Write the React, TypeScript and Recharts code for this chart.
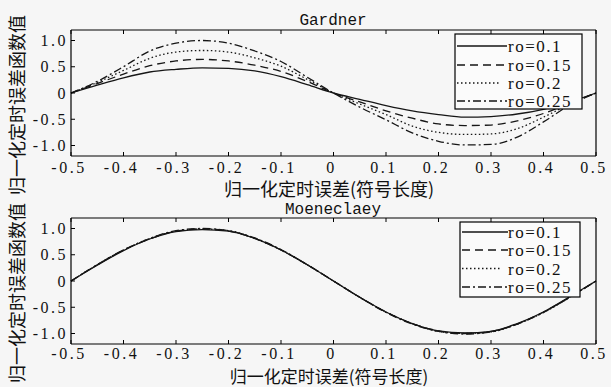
import React from 'react';
import { LineChart, Line, XAxis, YAxis } from 'recharts';

// x positions (normalized timing error, symbol units)
const xs = [
  -0.5, -0.45, -0.4, -0.35, -0.3, -0.25, -0.2, -0.15, -0.1, -0.05, 0,
  0.05, 0.1, 0.15, 0.2, 0.25, 0.3, 0.35, 0.4, 0.45, 0.5,
];

// Gardner S-curves
const gardner01 = [0, 0.15, 0.29, 0.4, 0.45, 0.48, 0.47, 0.42, 0.31, 0.16, 0, -0.12, -0.24, -0.34, -0.41, -0.46, -0.45, -0.4, -0.31, -0.17, 0];
const gardner015 = [0, 0.18, 0.36, 0.52, 0.61, 0.64, 0.61, 0.53, 0.41, 0.22, 0, -0.17, -0.34, -0.48, -0.59, -0.62, -0.61, -0.53, -0.39, -0.19, 0];
const gardner02 = [0, 0.2, 0.43, 0.66, 0.78, 0.81, 0.78, 0.67, 0.51, 0.26, 0, -0.21, -0.41, -0.63, -0.75, -0.79, -0.78, -0.68, -0.46, -0.21, 0];
const gardner025 = [0, 0.22, 0.5, 0.8, 0.95, 1.0, 0.95, 0.8, 0.6, 0.3, 0, -0.27, -0.51, -0.76, -0.92, -0.99, -0.98, -0.84, -0.55, -0.23, 0];

// Moeneclaey S-curves
const moen01 = [0, 0.3, 0.58, 0.8, 0.94, 0.98, 0.95, 0.81, 0.59, 0.31, 0, -0.31, -0.59, -0.81, -0.95, -0.99, -0.96, -0.81, -0.59, -0.3, 0];
const moen015 = [0, 0.31, 0.59, 0.8, 0.95, 0.99, 0.95, 0.81, 0.59, 0.31, 0, -0.31, -0.59, -0.81, -0.95, -1.0, -0.96, -0.82, -0.59, -0.31, 0];
const moen02 = [0, 0.31, 0.59, 0.81, 0.95, 0.99, 0.96, 0.81, 0.59, 0.31, 0, -0.31, -0.59, -0.81, -0.96, -1.0, -0.97, -0.82, -0.6, -0.31, 0];
const moen025 = [0, 0.31, 0.59, 0.81, 0.96, 1.0, 0.96, 0.82, 0.6, 0.31, 0, -0.31, -0.6, -0.82, -0.96, -1.01, -0.97, -0.82, -0.6, -0.31, 0];

const seriesNames = ['ro=0.1', 'ro=0.15', 'ro=0.2', 'ro=0.25'];
const xTicks = [-0.5, -0.4, -0.3, -0.2, -0.1, 0, 0.1, 0.2, 0.3, 0.4, 0.5];
const xTickLabels = ['-0.5', '-0.4', '-0.3', '-0.2', '-0.1', '0', '0.1', '0.2', '0.3', '0.4', '0.5'];
const yTicks = [-1, -0.5, 0, 0.5, 1];
const yTickLabels = ['-1.0', '-0.5', '0', '0.5', '1.0'];

const titles = ['Gardner', 'Moeneclaey'];
const xLabel = '归一化定时误差(符号长度)';
const yLabel = '归一化定时误差函数值';

const DASHES = ['', '8 5', '1.5 2.5', '8 3 2 3'];
const LINE = '#161616';
const BG = '#f6f6f6';
const NUM_FONT = 'Liberation Serif, DejaVu Serif, serif';
const CJK_FONT = 'Noto Sans CJK SC, sans-serif';
const TITLE_FONT = 'Liberation Mono, DejaVu Sans Mono, monospace';

const keys = ['r1', 'r2', 'r3', 'r4'];

function buildRows(series: number[][]) {
  return xs.map((x, i) => {
    const row: Record<string, number> = { x };
    series.forEach((s, k) => {
      row[keys[k]] = s[i];
    });
    return row;
  });
}

const gardnerRows = buildRows([gardner01, gardner015, gardner02, gardner025]);
const moenRows = buildRows([moen01, moen015, moen02, moen025]);

const labelFor = (v: number, values: number[], labels: string[]) => {
  const i = values.findIndex((t) => Math.abs(t - v) < 1e-6);
  return i >= 0 ? labels[i] : String(v);
};

const numStyle = { fontFamily: NUM_FONT, fontSize: 16, letterSpacing: 2.5 };

const BottomTick = (props: any) => {
  const { x, y, payload, labelDy } = props;
  return (
    <g>
      <line x1={x} y1={y} x2={x} y2={y - 4} stroke="#000" strokeWidth={1} />
      <text x={x - 2} y={y + labelDy} textAnchor="middle" style={numStyle} fill="#111">
        {labelFor(payload.value, xTicks, xTickLabels)}
      </text>
    </g>
  );
};

const TopTick = (props: any) => {
  const { x, y } = props;
  return <line x1={x} y1={y} x2={x} y2={y + 4} stroke="#000" strokeWidth={1} />;
};

const LeftTick = (props: any) => {
  const { x, y, payload } = props;
  return (
    <g>
      <line x1={x} y1={y} x2={x + 4} y2={y} stroke="#000" strokeWidth={1} />
      <text x={x - 3} y={y + 5.5} textAnchor="end" style={numStyle} fill="#111">
        {labelFor(payload.value, yTicks, yTickLabels)}
      </text>
    </g>
  );
};

const RightTick = (props: any) => {
  const { x, y } = props;
  return <line x1={x} y1={y} x2={x - 4} y2={y} stroke="#000" strokeWidth={1} />;
};

function Panel({ rows, height, bottomAxis, labelDy }: { rows: any[]; height: number; bottomAxis: number; labelDy: number }) {
  return (
    <LineChart width={611} height={height} data={rows} margin={{ top: 0, right: 0, bottom: 0, left: 0 }}>
      <XAxis
        xAxisId="b"
        dataKey="x"
        type="number"
        domain={[-0.5, 0.5]}
        ticks={xTicks}
        interval={0}
        height={bottomAxis}
        tickSize={0}
        tickMargin={0}
        tickLine={false}
        axisLine={{ stroke: '#000', strokeWidth: 1.2 }}
        tick={<BottomTick labelDy={labelDy} />}
      />
      <XAxis
        xAxisId="t"
        orientation="top"
        dataKey="x"
        type="number"
        domain={[-0.5, 0.5]}
        ticks={xTicks}
        interval={0}
        height={30}
        tickSize={0}
        tickMargin={0}
        tickLine={false}
        axisLine={{ stroke: '#000', strokeWidth: 1.2 }}
        tick={<TopTick />}
      />
      <YAxis
        yAxisId="l"
        type="number"
        domain={[-1.2, 1.2]}
        ticks={yTicks}
        interval={0}
        width={71}
        tickSize={0}
        tickMargin={0}
        tickLine={false}
        axisLine={{ stroke: '#000', strokeWidth: 1.2 }}
        tick={<LeftTick />}
      />
      <YAxis
        yAxisId="r"
        orientation="right"
        type="number"
        domain={[-1.2, 1.2]}
        ticks={yTicks}
        interval={0}
        width={15}
        tickSize={0}
        tickMargin={0}
        tickLine={false}
        axisLine={{ stroke: '#000', strokeWidth: 1.2 }}
        tick={<RightTick />}
      />
      {keys.map((k, i) => (
        <Line
          key={k}
          xAxisId="b"
          yAxisId="l"
          dataKey={k}
          type="monotone"
          stroke={LINE}
          strokeWidth={1.3}
          strokeDasharray={DASHES[i] || undefined}
          dot={false}
          activeDot={false}
          isAnimationActive={false}
        />
      ))}
    </LineChart>
  );
}

function LegendBox({ left, top, width, height, rows, sampleEnd, textX }: any) {
  return (
    <g transform={`translate(${left},${top})`}>
      <rect x={0} y={0} width={width} height={height} fill="#fbfbfb" stroke="#000" strokeWidth={1.2} />
      {seriesNames.map((name, i) => (
        <g key={name}>
          <line
            x1={2}
            y1={rows[i]}
            x2={i === 2 ? sampleEnd - 8 : sampleEnd}
            y2={rows[i]}
            stroke={LINE}
            strokeWidth={1.3}
            strokeDasharray={DASHES[i] || undefined}
          />
          <text
            x={textX}
            y={rows[i] + 6}
            style={{ fontFamily: NUM_FONT, fontSize: 17, letterSpacing: 1.5 }}
            fill="#111"
          >
            {name}
          </text>
        </g>
      ))}
    </g>
  );
}

export default function App() {
  return (
    <div style={{ position: 'absolute', left: 0, top: 0, width: 611, height: 387, background: BG, overflow: 'hidden' }}>
      <div style={{ position: 'absolute', left: 0, top: 0 }}>
        <Panel rows={gardnerRows} height={190} bottomAxis={34} labelDy={17} />
      </div>
      <div style={{ position: 'absolute', left: 0, top: 188 }}>
        <Panel rows={moenRows} height={199} bottomAxis={43} labelDy={15} />
      </div>
      <svg width={611} height={387} style={{ position: 'absolute', left: 0, top: 0, pointerEvents: 'none' }}>
        <text x={333} y={25} textAnchor="middle" style={{ fontFamily: TITLE_FONT, fontSize: 16 }} fill="#111">
          {titles[0]}
        </text>
        <text x={333} y={214} textAnchor="middle" style={{ fontFamily: TITLE_FONT, fontSize: 16 }} fill="#111">
          {titles[1]}
        </text>
        <text x={329} y={196} textAnchor="middle" style={{ fontFamily: CJK_FONT, fontSize: 18 }} fill="#111">
          {xLabel}
        </text>
        <text x={329} y={382.5} textAnchor="middle" style={{ fontFamily: CJK_FONT, fontSize: 17 }} fill="#111">
          {xLabel}
        </text>
        <text
          x={0}
          y={0}
          transform="translate(16,105) rotate(-90)"
          textAnchor="middle"
          dominantBaseline="central"
          style={{ fontFamily: CJK_FONT, fontSize: 18 }}
          fill="#111"
        >
          {yLabel}
        </text>
        <text
          x={0}
          y={0}
          transform="translate(16,293) rotate(-90)"
          textAnchor="middle"
          dominantBaseline="central"
          style={{ fontFamily: CJK_FONT, fontSize: 18 }}
          fill="#111"
        >
          {yLabel}
        </text>
        <LegendBox left={455} top={34} width={127} height={75} rows={[12, 31, 49, 67]} sampleEnd={52} textX={53} />
        <LegendBox left={460} top={222} width={120} height={75} rows={[10, 28, 46.5, 65]} sampleEnd={48} textX={48} />
      </svg>
    </div>
  );
}
